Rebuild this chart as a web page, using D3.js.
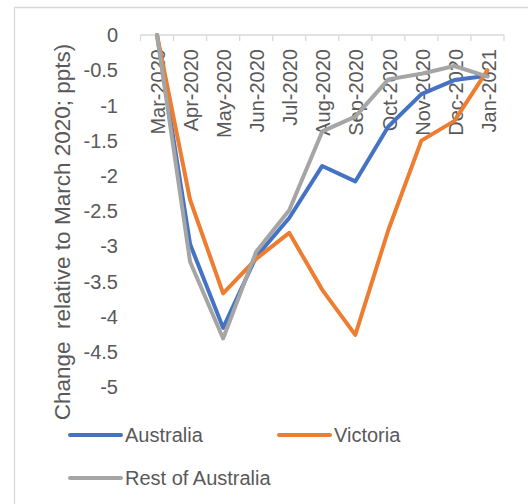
<!DOCTYPE html>
<html>
<head>
<meta charset="utf-8">
<script src="https://cdn.jsdelivr.net/npm/d3@7"></script>
<style>
  html, body { margin: 0; padding: 0; background: #fff; }
  svg { display: block; }
  text { font-family: "Liberation Sans", Arial, sans-serif; fill: #595959; }
</style>
</head>
<body>
<div id="chart"></div>
<script>
// Monthly change in the rate, relative to March 2020 (percentage points)
const months = ["Mar-2020", "Apr-2020", "May-2020", "Jun-2020", "Jul-2020", "Aug-2020",
                "Sep-2020", "Oct-2020", "Nov-2020", "Dec-2020", "Jan-2021"];
const australia = [0, -2.97, -4.16, -3.15, -2.60, -1.86, -2.08, -1.30, -0.84, -0.64, -0.58];
const victoria  = [0, -2.34, -3.67, -3.18, -2.81, -3.62, -4.26, -2.77, -1.50, -1.22, -0.50];
const restOfAus = [0, -3.22, -4.31, -3.08, -2.49, -1.37, -1.16, -0.63, -0.55, -0.44, -0.59];
const yTicks = [0, -0.5, -1, -1.5, -2, -2.5, -3, -3.5, -4, -4.5, -5];
const seriesNames = ["Australia", "Victoria", "Rest of Australia"];
const seriesColors = ["#4472C4", "#ED7D31", "#A5A5A5"];

const W = 528, H = 504;
const svg = d3.select("#chart").append("svg").attr("width", W).attr("height", H);

// chart frame
svg.append("path")
  .attr("d", "M14.5,504 V7.5 H528")
  .attr("fill", "none").attr("stroke", "#D9D9D9").attr("stroke-width", 1.3);

const x = d3.scaleBand().domain(months).range([140.5, 504]).padding(0);
const y = d3.scaleLinear().domain([-5, 0]).range([387, 35]);

// category axis sits along the zero line at the top
const axisG = svg.append("g");
axisG.append("line")
  .attr("x1", x.range()[0]).attr("x2", x.range()[1])
  .attr("y1", y(0)).attr("y2", y(0))
  .attr("stroke", "#D9D9D9").attr("stroke-width", 1.3);
const tickPos = months.map(m => x(m)).concat([x.range()[1]]);
axisG.selectAll("line.tick").data(tickPos).join("line")
  .attr("class", "tick")
  .attr("x1", d => d).attr("x2", d => d)
  .attr("y1", y(0)).attr("y2", y(0) + 6)
  .attr("stroke", "#D9D9D9").attr("stroke-width", 1.3);
axisG.selectAll("text.cat").data(months).join("text")
  .attr("class", "cat")
  .attr("transform", d => `translate(${x(d) + x.bandwidth() / 2 + 1},49) rotate(-90)`)
  .attr("text-anchor", "end")
  .attr("dy", "0.36em")
  .attr("font-size", 20)
  .text(d => d);

// value labels (plain hyphen for the minus sign)
svg.append("g").selectAll("text").data(yTicks).join("text")
  .attr("x", 118).attr("y", d => y(d))
  .attr("dy", "0.36em")
  .attr("text-anchor", "end")
  .attr("font-size", 20)
  .text(d => String(d));

// value axis title
svg.append("text")
  .attr("transform", "translate(62,232) rotate(-90)")
  .attr("text-anchor", "middle")
  .attr("dy", "0.36em")
  .attr("font-size", 22.5)
  .attr("xml:space", "preserve")
  .style("white-space", "pre")
  .text("Change  relative to March 2020; ppts)");

// series lines
const lineGen = d3.line()
  .x((d, i) => x(months[i]) + x.bandwidth() / 2)
  .y(d => y(d));
const allSeries = [australia, victoria, restOfAus];
svg.append("g").selectAll("path").data(allSeries).join("path")
  .attr("d", d => lineGen(d))
  .attr("fill", "none")
  .attr("stroke", (d, i) => seriesColors[i])
  .attr("stroke-width", 4)
  .attr("stroke-linejoin", "round")
  .attr("stroke-linecap", "round");

// legend
const legendPos = [[70, 435], [279, 435], [70, 478]];
const leg = svg.append("g").selectAll("g").data(seriesNames).join("g")
  .attr("transform", (d, i) => `translate(${legendPos[i][0]},${legendPos[i][1]})`);
leg.append("line")
  .attr("x1", 0).attr("x2", 51).attr("y1", 0).attr("y2", 0)
  .attr("stroke", (d, i) => seriesColors[i])
  .attr("stroke-width", 4)
  .attr("stroke-linecap", "round");
leg.append("text")
  .attr("x", 55).attr("y", 0).attr("dy", "0.36em")
  .attr("font-size", 20)
  .text(d => d);
</script>
</body>
</html>
